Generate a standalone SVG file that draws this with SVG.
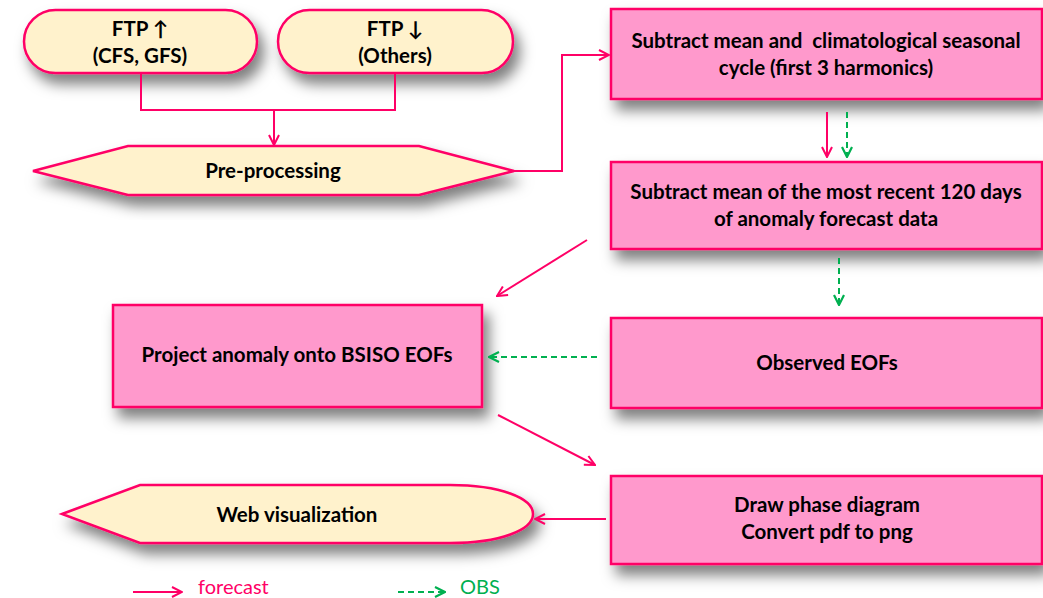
<svg xmlns="http://www.w3.org/2000/svg" width="1043" height="598" viewBox="0 0 1043 598">
<style>
.pink{fill:#FF99CC;stroke:#FF0066;stroke-width:2.5}
.cream{fill:#FFF2CC;stroke:#FF0066;stroke-width:2.5}
.t{font-family:Lato,"Liberation Sans",sans-serif;font-weight:bold;font-size:20.5px;fill:#000;text-anchor:middle;white-space:pre}
.red{fill:none;stroke:#FF0066;stroke-width:2}
.green{fill:none;stroke:#00B050;stroke-width:2;stroke-dasharray:6 4}
.leg{font-family:Lato,"Liberation Sans",sans-serif;font-size:20px}
</style>
<defs>
<filter id="sh" x="-20%" y="-30%" width="150%" height="180%">
<feDropShadow dx="6" dy="10" stdDeviation="7" flood-color="#000" flood-opacity="0.5"/>
</filter>
<marker id="ar" viewBox="0 0 12 12" refX="11" refY="6" markerWidth="12" markerHeight="12" markerUnits="userSpaceOnUse" orient="auto">
<path d="M1,1 L11,6 L1,11" fill="none" stroke="#FF0066" stroke-width="2"/>
</marker>
<marker id="ag" viewBox="0 0 12 12" refX="11" refY="6" markerWidth="12" markerHeight="12" markerUnits="userSpaceOnUse" orient="auto">
<path d="M1,1 L11,6 L1,11" fill="none" stroke="#00B050" stroke-width="2.2"/>
</marker>
</defs>
<rect width="1043" height="598" fill="#fff"/>

<g id="ftp-up">
<rect class="cream" x="24" y="10" width="233" height="63" rx="31.5" filter="url(#sh)"/>
<text class="t" x="140" y="36">FTP ↑</text>
<text class="t" x="140" y="63">(CFS, GFS)</text>
</g>
<g id="ftp-down">
<rect class="cream" x="278" y="10" width="235" height="63" rx="31.5" filter="url(#sh)"/>
<text class="t" x="395" y="36">FTP ↓</text>
<text class="t" x="395" y="63">(Others)</text>
</g>
<g id="preprocessing">
<polygon class="cream" points="33,171 128,146 419,146 514,171 419,195 128,195" filter="url(#sh)"/>
<text class="t" x="273" y="178">Pre-processing</text>
</g>
<g id="subtract-clim">
<rect class="pink" x="611" y="9" width="431" height="90" filter="url(#sh)"/>
<text class="t" x="826" y="48" xml:space="preserve">Subtract mean and  climatological seasonal</text>
<text class="t" x="826" y="75">cycle (first 3 harmonics)</text>
</g>
<g id="subtract-120">
<rect class="pink" x="611" y="162" width="431" height="87" filter="url(#sh)"/>
<text class="t" x="826" y="199">Subtract mean of the most recent 120 days</text>
<text class="t" x="826" y="226">of anomaly forecast data</text>
</g>
<g id="project">
<rect class="pink" x="113" y="305" width="369" height="102" filter="url(#sh)"/>
<text class="t" x="297" y="362">Project anomaly onto BSISO EOFs</text>
</g>
<g id="observed">
<rect class="pink" x="611" y="318" width="431" height="90" filter="url(#sh)"/>
<text class="t" x="827" y="370">Observed EOFs</text>
</g>
<g id="draw">
<rect class="pink" x="611" y="476" width="431" height="88" filter="url(#sh)"/>
<text class="t" x="827" y="512">Draw phase diagram</text>
<text class="t" x="827" y="539">Convert pdf to png</text>
</g>
<g id="web">
<path class="cream" d="M62,514 L140,485 L450,485 C500,485 533,498 533,514 C533,530 500,543 450,543 L140,543 Z" filter="url(#sh)"/>
<text class="t" x="297" y="522">Web visualization</text>
</g>

<g id="connectors">
<polyline class="red" points="141,73 141,110 395,110 395,73"/>
<line class="red" x1="274" y1="110" x2="274" y2="145" marker-end="url(#ar)"/>
<polyline class="red" points="514,171 562,171 562,55 609,55" marker-end="url(#ar)"/>
<line class="red" x1="827" y1="112" x2="827" y2="157" marker-end="url(#ar)"/>
<line class="green" x1="847" y1="112" x2="847" y2="157" marker-end="url(#ag)"/>
<line class="green" x1="839" y1="258" x2="839" y2="305" marker-end="url(#ag)"/>
<line class="red" x1="587" y1="240" x2="497" y2="296" marker-end="url(#ar)"/>
<line class="green" x1="597" y1="357" x2="489" y2="357" marker-end="url(#ag)"/>
<line class="red" x1="498" y1="415" x2="595" y2="465" marker-end="url(#ar)"/>
<line class="red" x1="606" y1="519" x2="535" y2="519" marker-end="url(#ar)"/>
</g>

<g id="legend">
<line class="red" x1="133" y1="592" x2="182" y2="592" marker-end="url(#ar)"/>
<text class="leg" x="198" y="594" fill="#FF0066">forecast</text>
<line class="green" x1="398" y1="592" x2="445" y2="592" stroke-dasharray="5 3" marker-end="url(#ag)"/>
<text class="leg" x="460" y="594" fill="#00B050">OBS</text>
</g>
</svg>
